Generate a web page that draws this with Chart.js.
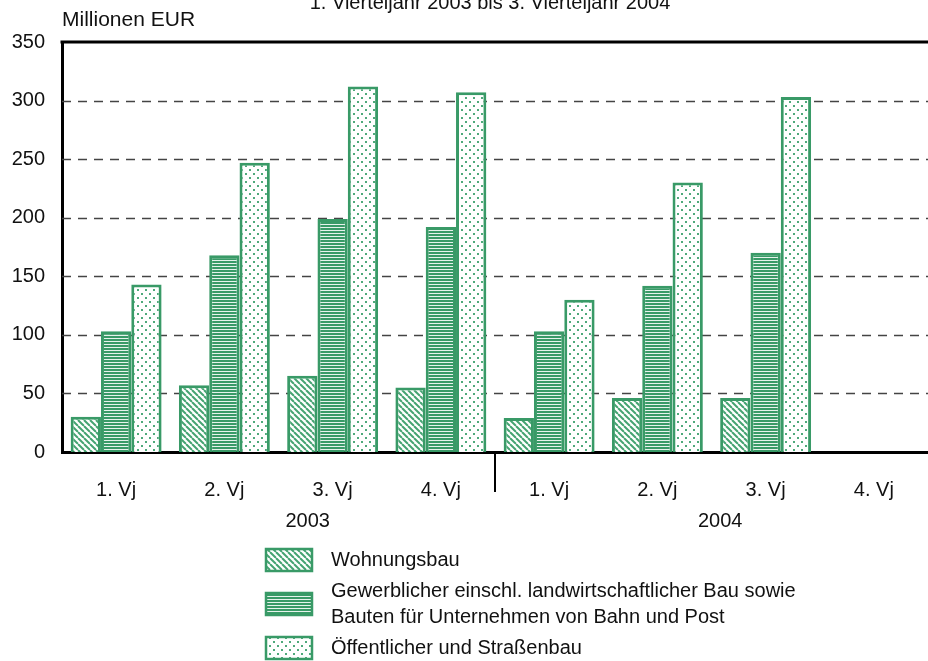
<!DOCTYPE html>
<html>
<head>
<meta charset="utf-8">
<script src="https://cdn.jsdelivr.net/npm/chart.js@4.4.0/dist/chart.umd.min.js"></script>
<style>
  html, body { margin: 0; padding: 0; background: #fff; }
  #wrap { width: 928px; height: 661px; position: relative; }
</style>
</head>
<body>
<div id="wrap"><canvas id="chart" width="928" height="661"></canvas></div>
<script>
// Daten (Millionen EUR)
const quarters = ['1. Vj', '2. Vj', '3. Vj', '4. Vj', '1. Vj', '2. Vj', '3. Vj', '4. Vj'];
const years = ['2003', '2004'];
const wohnungsbau = [30, 57, 65, 55, 29, 46, 46, null];
const gewerblich = [103, 168, 199, 192, 103, 142, 170, null];
const oeffentlich = [143, 247, 312, 307, 130, 230, 303, null];
const seriesNames = [
    ['Wohnungsbau'],
    ['Gewerblicher einschl. landwirtschaftlicher Bau sowie', 'Bauten für Unternehmen von Bahn und Post'],
    ['Öffentlicher und Straßenbau']
];
const yMax = 350;
const yStep = 50;

const GREEN = '#399a67';
const FONT = '"Liberation Sans", Arial, sans-serif';

function makePattern(kind) {
    const c = document.createElement('canvas');
    const g = c.getContext('2d');
    if (kind === 'diag') {
        const s = 6;
        c.width = s; c.height = s;
        g.fillStyle = '#fff';
        g.fillRect(0, 0, s, s);
        g.strokeStyle = '#45a372';
        g.lineWidth = 2;
        [-s, 0, s].forEach(o => {
            g.beginPath();
            g.moveTo(o, 0);
            g.lineTo(o + s, s);
            g.stroke();
        });
    } else if (kind === 'horiz') {
        c.width = 3; c.height = 3;
        g.fillStyle = '#e6f3ec';
        g.fillRect(0, 0, 3, 3);
        g.fillStyle = GREEN;
        g.fillRect(0, 0, 3, 2);
    } else {
        c.width = 8; c.height = 8;
        g.fillStyle = '#fff';
        g.fillRect(0, 0, 8, 8);
        g.fillStyle = '#4fa97b';
        g.fillRect(1, 1, 2, 2);
        g.fillRect(5, 5, 2, 2);
    }
    return document.createElement('canvas').getContext('2d').createPattern(c, 'repeat');
}

const patterns = [makePattern('diag'), makePattern('horiz'), makePattern('dots')];

const extras = {
    id: 'extras',
    beforeDatasetsDraw(chart) {
        const ctx = chart.ctx;
        const a = chart.chartArea;
        const y = chart.scales.y;
        ctx.save();
        ctx.strokeStyle = '#444';
        ctx.lineWidth = 1.3;
        ctx.setLineDash([9, 7]);
        for (let v = yStep; v < yMax; v += yStep) {
            const py = Math.round(y.getPixelForValue(v)) + 0.5;
            ctx.beginPath();
            ctx.moveTo(a.left, py);
            ctx.lineTo(a.right, py);
            ctx.stroke();
        }
        ctx.restore();
    },
    afterDraw(chart) {
        const ctx = chart.ctx;
        const a = chart.chartArea;
        const x = chart.scales.x;
        const y = chart.scales.y;
        const step = x.getPixelForValue(1) - x.getPixelForValue(0);
        ctx.save();
        // obere Linie
        ctx.strokeStyle = '#000';
        ctx.lineWidth = 3;
        const top = y.getPixelForValue(yMax);
        ctx.beginPath();
        ctx.moveTo(a.left - 1.5, top);
        ctx.lineTo(a.right, top);
        ctx.stroke();
        // Trennlinie zwischen den Jahren
        const sep = (x.getPixelForValue(3) + x.getPixelForValue(4)) / 2;
        ctx.lineWidth = 2;
        ctx.beginPath();
        ctx.moveTo(sep, a.bottom);
        ctx.lineTo(sep, a.bottom + 40);
        ctx.stroke();

        // Titel und Einheit
        ctx.fillStyle = '#111';
        ctx.font = '20px ' + FONT;
        ctx.textAlign = 'center';
        ctx.textBaseline = 'middle';
        ctx.fillText('1. Vierteljahr 2003 bis 3. Vierteljahr 2004', 490, 3);
        ctx.textAlign = 'left';
        ctx.font = '21px ' + FONT;
        ctx.fillText('Millionen EUR', 62, 20);

        // Jahre
        ctx.font = '20px ' + FONT;
        ctx.textAlign = 'center';
        const yearPos = [1.77, 5.58];
        years.forEach((yr, i) => {
            ctx.fillText(yr, x.getPixelForValue(0) + yearPos[i] * step, 521);
        });

        // Legende
        const rows = [560, 604, 648];
        ctx.textAlign = 'left';
        rows.forEach((ry, i) => {
            ctx.fillStyle = patterns[i];
            ctx.fillRect(266, ry - 11, 46, 22);
            ctx.strokeStyle = GREEN;
            ctx.lineWidth = 2.5;
            ctx.strokeRect(266, ry - 11, 46, 22);
            ctx.fillStyle = '#111';
            const lines = seriesNames[i];
            lines.forEach((t, j) => {
                ctx.fillText(t, 331, ry + (j - (lines.length - 1) / 2) * 26);
            });
        });
        ctx.restore();
    }
};

new Chart(document.getElementById('chart'), {
    type: 'bar',
    data: {
        labels: quarters,
        datasets: [wohnungsbau, gewerblich, oeffentlich].map((d, i) => ({
            label: seriesNames[i].join(' '),
            data: d,
            backgroundColor: patterns[i],
            borderColor: GREEN,
            borderWidth: 3,
            borderSkipped: 'bottom',
            categoryPercentage: 0.84,
            barPercentage: 1.0
        }))
    },
    options: {
        responsive: false,
        animation: false,
        devicePixelRatio: 1,
        layout: { padding: { top: 42, right: 0, bottom: 0, left: 0 } },
        plugins: {
            legend: { display: false },
            tooltip: { enabled: false },
            title: { display: false }
        },
        scales: {
            x: {
                grid: { display: false },
                border: { display: true, color: '#000', width: 3 },
                ticks: { color: '#111', font: { family: FONT, size: 20 }, padding: 18, maxRotation: 0 },
                afterFit(s) { s.height = 209; }
            },
            y: {
                min: 0,
                max: yMax,
                grid: { display: false },
                border: { display: true, color: '#000', width: 3 },
                ticks: { stepSize: yStep, color: '#111', font: { family: FONT, size: 20 }, padding: 9 },
                afterFit(s) { s.width = 62; }
            }
        }
    },
    plugins: [extras]
});
</script>
</body>
</html>
